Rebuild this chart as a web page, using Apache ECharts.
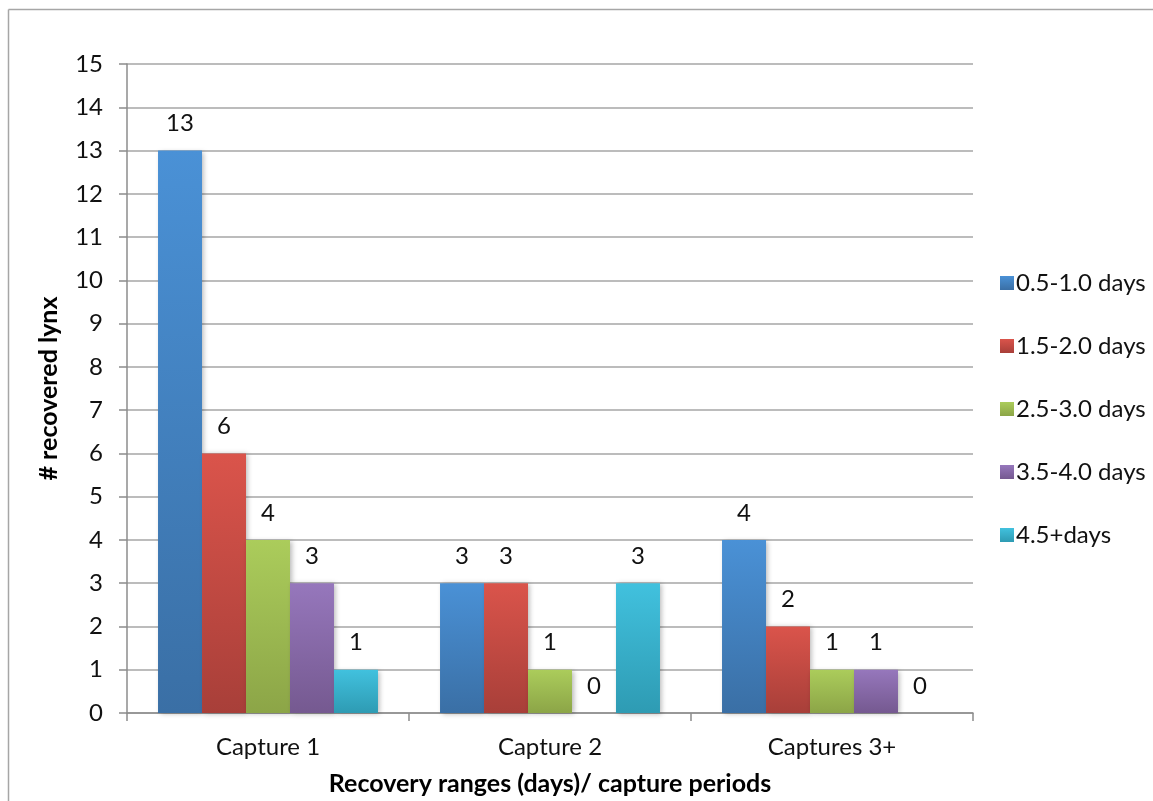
<!DOCTYPE html>
<html>
<head>
<meta charset="utf-8">
<script src="https://cdn.jsdelivr.net/npm/echarts@6/dist/echarts.min.js"></script>
<style>
  html, body { margin: 0; padding: 0; background: #fff; }
  #chart { width: 1153px; height: 801px; }
</style>
</head>
<body>
<div id="chart"></div>
<script>
// Recovered lynx by recovery range and capture period
const categories = ['Capture 1', 'Capture 2', 'Captures 3+'];
const seriesNames = ['0.5-1.0 days', '1.5-2.0 days', '2.5-3.0 days', '3.5-4.0 days', '4.5+days'];
const range05to10 = [13, 3, 4];
const range15to20 = [6, 3, 2];
const range25to30 = [4, 1, 1];
const range35to40 = [3, 0, 1];
const range45plus = [1, 3, 0];
const yTicks = [0, 1, 2, 3, 4, 5, 6, 7, 8, 9, 10, 11, 12, 13, 14, 15];

const seriesValues = [range05to10, range15to20, range25to30, range35to40, range45plus];
// top / bottom gradient stops per series
const palette = [
  ['#4a91d6', '#3a6fa5'],
  ['#da544b', '#a83f39'],
  ['#abcc5b', '#8ca547'],
  ['#9677bc', '#755990'],
  ['#41c1de', '#2e9bb3']
];
const FONT = 'Lato, "Open Sans", sans-serif';
const FS = 24;

function grad(c) {
  return new echarts.graphic.LinearGradient(0, 0, 0, 1, [
    { offset: 0, color: c[0] },
    { offset: 1, color: c[1] }
  ]);
}

const chart = echarts.init(document.getElementById('chart'), null, { renderer: 'canvas' });

chart.setOption({
  animation: false,
  backgroundColor: '#ffffff',
  textStyle: { fontFamily: FONT },
  graphic: [
    // outer chart-area frame (left and top edges visible)
    { type: 'line', shape: { x1: 8.5, y1: 9.5, x2: 8.5, y2: 801 }, style: { stroke: '#a6a6a6', lineWidth: 1.5 } },
    { type: 'line', shape: { x1: 8.5, y1: 9.5, x2: 1153, y2: 9.5 }, style: { stroke: '#a6a6a6', lineWidth: 1.5 } }
  ],
  grid: { left: 127, right: 180, top: 64, bottom: 86, containLabel: false },
  legend: {
    orient: 'vertical',
    left: 995,
    top: 266,
    itemWidth: 14,
    itemHeight: 14,
    itemGap: 39,
    icon: 'rect',
    data: seriesNames,
    textStyle: { fontFamily: FONT, fontSize: FS, color: '#111', padding: [0, 0, 0, -3] }
  },
  xAxis: {
    type: 'category',
    data: categories,
    name: 'Recovery ranges (days)/ capture periods',
    nameLocation: 'middle',
    nameGap: 58,
    nameTextStyle: { fontFamily: FONT, fontSize: 25, fontWeight: 'bold', color: '#000' },
    axisLine: { lineStyle: { color: '#8c8c8c', width: 1.5 } },
    axisTick: { show: true, length: 8, lineStyle: { color: '#8c8c8c', width: 1.5 } },
    axisLabel: { fontFamily: FONT, fontSize: FS, color: '#111', margin: 22 },
    splitLine: { show: false }
  },
  yAxis: {
    type: 'value',
    min: 0,
    max: 15,
    interval: 1,
    name: '# recovered lynx',
    nameLocation: 'middle',
    nameGap: 66,
    nameRotate: 90,
    nameTextStyle: { fontFamily: FONT, fontSize: 25, fontWeight: 'bold', color: '#000' },
    axisLine: { show: true, lineStyle: { color: '#8c8c8c', width: 1.5 } },
    axisTick: { show: true, length: 8, lineStyle: { color: '#8c8c8c', width: 1.5 } },
    axisLabel: {
      fontFamily: FONT, fontSize: FS, color: '#111', margin: 24,
      formatter: v => (yTicks.includes(v) ? String(v) : '')
    },
    splitLine: { show: true, lineStyle: { color: '#a6a6a6', width: 1.5 } }
  },
  series: seriesNames.map((name, i) => ({
    name: name,
    type: 'bar',
    data: seriesValues[i],
    barGap: '0%',
    barCategoryGap: '22%',
    itemStyle: {
      color: grad(palette[i]),
      shadowColor: 'rgba(0,0,0,0.28)',
      shadowBlur: 5,
      shadowOffsetX: 2,
      shadowOffsetY: 1
    },
    label: {
      show: true,
      position: 'top',
      distance: 15,
      fontFamily: FONT,
      fontSize: FS,
      color: '#111'
    }
  }))
});
</script>
</body>
</html>
